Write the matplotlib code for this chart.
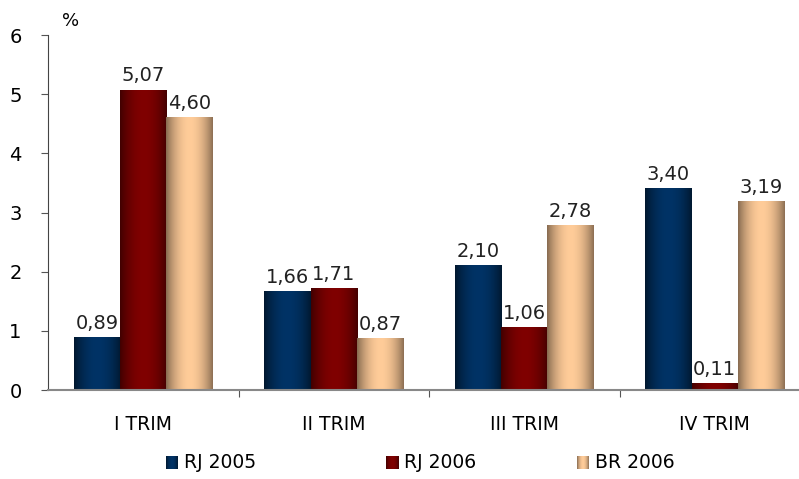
import numpy as np
import matplotlib.pyplot as plt
from matplotlib.colors import to_rgb

categories = ['I TRIM', 'II TRIM', 'III TRIM', 'IV TRIM']
series_names = ['RJ 2005', 'RJ 2006', 'BR 2006']
rj_2005 = [0.89, 1.66, 2.10, 3.40]
rj_2006 = [5.07, 1.71, 1.06, 0.11]
br_2006 = [4.60, 0.87, 2.78, 3.19]

# (dark edge, light centre) for the cylinder-like shading
shades = [('#001428', '#003366'), ('#3a0000', '#800000'), ('#7a6048', '#ffcc99')]


def gradient(dark, light, n=64):
  x = np.linspace(0, 1, n)
  f = np.sin(np.pi * np.clip(x * 0.95 + 0.02, 0, 1)) ** 0.8
  d, l = np.array(to_rgb(dark)), np.array(to_rgb(light))
  return (d[None, :] * (1 - f[:, None]) + l[None, :] * f[:, None])[None, :, :]


plt.rcParams['font.family'] = 'DejaVu Sans'
fig = plt.figure(figsize=(7.99, 4.79), dpi=100)
ax = fig.add_axes([48 / 799, 89 / 479, 1 - 48 / 799, 355 / 479])

width = 0.243
x = np.arange(len(categories))
all_series = [rj_2005, rj_2006, br_2006]
for i, values in enumerate(all_series):
  img = gradient(*shades[i])
  for xi, v in zip(x, values):
    left = xi + (i - 1.5) * width
    ax.imshow(img, extent=(left, left + width, 0, v), aspect='auto', zorder=2)
    ax.text(left + width / 2, v + 0.08, f'{v:.2f}'.replace('.', ','),
            ha='center', va='bottom', fontsize=14, color='#222222')

ax.set_yticks(range(7))
ax.tick_params(axis='y', direction='out', length=5, color='#555555', labelsize=14, pad=14)
ax.set_xticks(np.arange(0.5, 4, 1))
ax.tick_params(axis='x', which='major', direction='out', length=5, color='#555555', labelbottom=False)
ax.set_xticks(x, minor=True)
ax.set_xticklabels(categories, minor=True)
ax.tick_params(axis='x', which='minor', length=0, labelsize=13.5, pad=18)
# limits last: set_xticks would otherwise widen them
ax.set_xlim(-0.5, -0.5 + 751 / 190.5)
ax.set_ylim(0, 6)
for s in ['top', 'right']:
  ax.spines[s].set_visible(False)
ax.spines['left'].set_color('#444444')
ax.spines['bottom'].set_color('#888888')
ax.spines['bottom'].set_linewidth(1.5)
ax.text(-0.38, 6.08, '%', fontsize=13, ha='center', va='bottom')

# legend drawn by hand so the markers keep the gradient look
legend_x = [166, 386, 577]
for i, name in enumerate(series_names):
  lx = legend_x[i] / 799
  lax = fig.add_axes([lx, 10 / 479, 12 / 799, 13 / 479])
  lax.imshow(gradient(*shades[i]), aspect='auto')
  lax.axis('off')
  fig.text(lx + 18 / 799, 16 / 479, name, fontsize=13.5, va='center', ha='left')

fig.savefig('out.png', dpi=100)
